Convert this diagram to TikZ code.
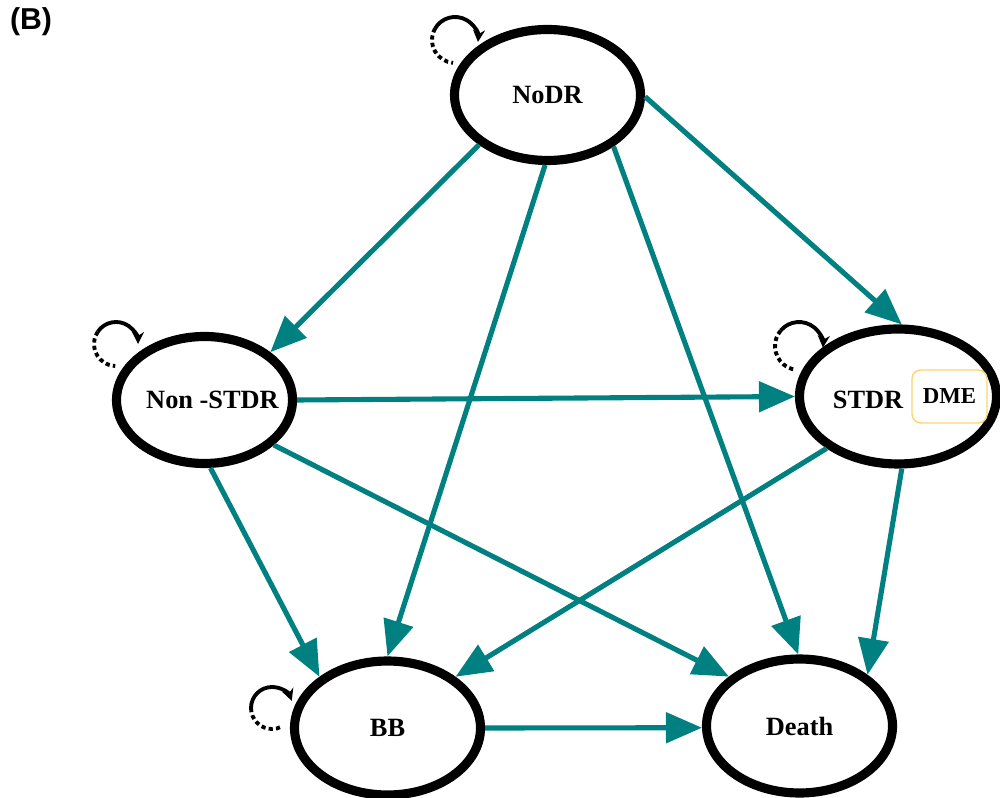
\documentclass[tikz,border=0pt]{standalone}
\usepackage{fontspec}
\setmainfont{Liberation Serif}
\setsansfont{Liberation Sans}
\usetikzlibrary{shapes.geometric,arrows.meta,positioning}
\definecolor{dmegold}{RGB}{250,212,110}

\begin{document}
\begin{tikzpicture}[
    state/.style = {ellipse, draw, line width=2.6pt, inner sep=0pt, font=\fontsize{7.5}{8}\selectfont\bfseries},
    statetext/.style = {inner sep=0pt, font=\fontsize{7.5}{8}\selectfont\bfseries},
    trans/.style = {draw=teal, line width=1.45pt, -{Triangle[length=0.36cm,width=0.30cm]}},
    selfloop/.style = {line width=1.1pt},
    loopdash/.style = {selfloop, dash pattern=on 1.2pt off 0.9pt},
    looptip/.style = {selfloop, -{Stealth[length=0.12cm,width=0.12cm]}},
    dmebox/.style = {draw=dmegold, rounded corners=2.5pt, line width=0.4pt, minimum width=0.75cm, minimum height=0.53cm, inner sep=0pt, font=\fontsize{6.5}{8}\selectfont\bfseries}
]
    \useasboundingbox (0,0) rectangle (10,7.97);

    \node[font=\sffamily\bfseries\fontsize{8.6}{10}\selectfont] (panel) at (0.31,7.75) {(B)};

    % states
    \node[state, minimum width=1.86cm, minimum height=1.31cm] (NoDR) at (5.475,7.02) {NoDR};
    \node[state, minimum width=1.76cm, minimum height=1.27cm] (NonSTDR) at (2.045,3.97) {};
    \node[statetext] (NonSTDRtxt) at (2.125,3.97) {Non -STDR};
    \node[state, minimum width=1.97cm, minimum height=1.35cm] (STDR) at (8.98,4.005) {};
    \node[statetext] (STDRtxt) at (8.68,3.97) {STDR};
    \node[dmebox] (DME) at (9.495,4.005) {DME};
    \node[state, minimum width=1.86cm, minimum height=1.34cm] (BB) at (3.875,0.69) {BB};
    \node[state, minimum width=1.86cm, minimum height=1.34cm] (Death) at (7.995,0.71) {Death};

    % self loops
    \coordinate (NoDR-l) at (4.351,7.685);
    \coordinate (NonSTDR-l) at (0.978,4.653);
    \coordinate (STDR-l) at (7.806,4.664);
    \coordinate (BB-l) at (2.51,0.89);
    \draw[loopdash] (NoDR-l) arc[start angle=150, end angle=265, radius=0.23];
    \draw[looptip] (NoDR-l) arc[start angle=150, end angle=-5, radius=0.23];
    \draw[loopdash] (NonSTDR-l) arc[start angle=146, end angle=268, radius=0.22];
    \draw[looptip] (NonSTDR-l) arc[start angle=146, end angle=0, radius=0.22];
    \draw[loopdash] (STDR-l) arc[start angle=140, end angle=260, radius=0.24];
    \draw[looptip] (STDR-l) arc[start angle=140, end angle=-4, radius=0.24];
    \draw[loopdash] (BB-l) arc[start angle=180, end angle=298, radius=0.21];
    \draw[looptip] (BB-l) arc[start angle=180, end angle=20, radius=0.21];

    % transitions
    \draw[trans] (NoDR.216) -- (NonSTDR.36);
    \draw[trans] (NoDR.268) -- (BB.90);
    \draw[trans] (NoDR.322) -- (Death.91);
    \draw[trans] (NoDR.359) -- (STDR.87);
    \draw[trans] (NonSTDR.0) -- (STDR.180);
    \draw[trans] (NonSTDR.275) -- (BB.143);
    \draw[trans] (NonSTDR.327) -- (Death.145);
    \draw[trans] (STDR.216) -- (BB.37);
    \draw[trans] (STDR.273) -- (Death.37);
    \draw[trans] (BB.0) -- (Death.181);
\end{tikzpicture}
\end{document}
